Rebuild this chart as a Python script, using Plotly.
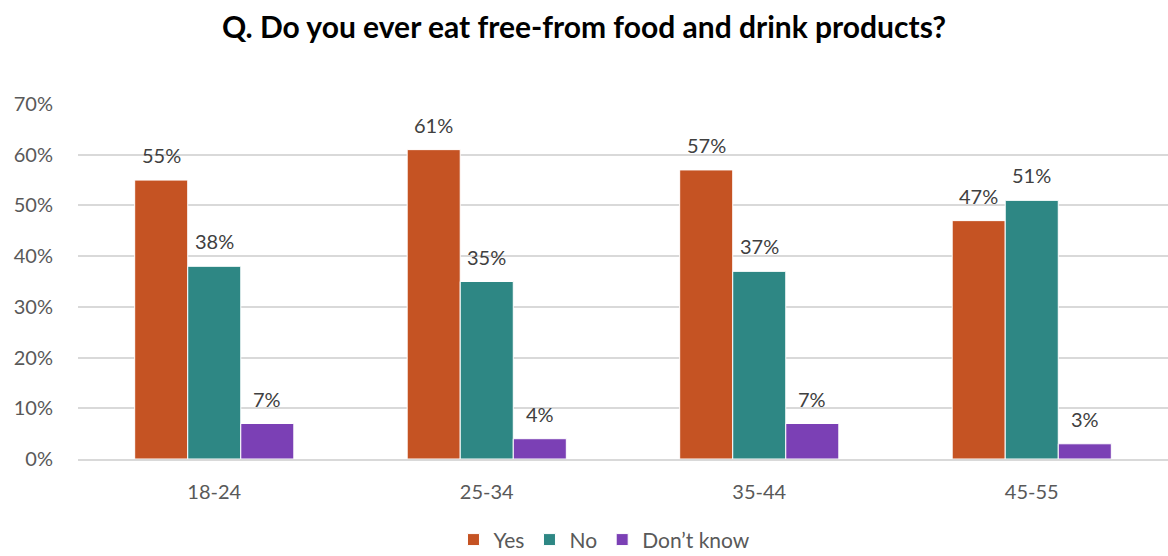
import plotly.graph_objects as go

categories = ["18-24", "25-34", "35-44", "45-55"]
yes_vals = [55, 61, 57, 47]
no_vals = [38, 35, 37, 51]
dk_vals = [7, 4, 7, 3]
series_names = ["Yes", "No", "Don\u2019t know"]
colors = ["#C55323", "#2E8784", "#7B40B5"]
tick_vals = [0, 10, 20, 30, 40, 50, 60, 70]
tick_text = ["0%", "10%", "20%", "30%", "40%", "50%", "60%", "70%"]

font_family = "Lato, 'Open Sans', sans-serif"
bar_px = 53  # approximate bar width in pixels for label offsets

fig = go.Figure()
all_vals = [yes_vals, no_vals, dk_vals]
for name, vals, col in zip(series_names, all_vals, colors):
    fig.add_trace(go.Bar(
        x=categories, y=vals, name=name,
        marker=dict(color=col, line=dict(color="white", width=1)),
    ))

annotations = []
for si, vals in enumerate(all_vals):
    for cat, v in zip(categories, vals):
        annotations.append(dict(
            x=cat, y=v, xref="x", yref="y", text=f"{v}%", showarrow=False,
            xanchor="center", yanchor="bottom", xshift=(si - 1) * bar_px, yshift=11,
            font=dict(size=20, color="#404040", family=font_family),
        ))

fig.update_layout(
    width=1168, height=556,
    margin=dict(l=78, r=0, t=104, b=97, autoexpand=False),
    paper_bgcolor="white", plot_bgcolor="white",
    barmode="group", bargap=0.416, bargroupgap=0,
    title=dict(text="<b>Q. Do you ever eat free-from food and drink products?</b>",
               x=0.5, xanchor="center", y=0.95, yanchor="middle",
               font=dict(size=30, color="black", family=font_family)),
    font=dict(family=font_family, color="#595959", size=20),
    showlegend=True,
    legend=dict(orientation="h", x=0.483, xanchor="center", y=-0.228, yanchor="middle",
                font=dict(size=21, color="#595959"), traceorder="normal",
                itemwidth=30),
    annotations=annotations,
)
fig.update_yaxes(range=[0, 70], tickvals=tick_vals, ticktext=tick_text,
                 showgrid=True, gridcolor="#D9D9D9", gridwidth=1.5,
                 zeroline=False, showline=False, ticks="", ticklabelstandoff=24,
                 tickfont=dict(size=20, color="#595959"))
fig.update_xaxes(showline=True, linecolor="#D9D9D9", linewidth=1.5, ticks="",
                 tickfont=dict(size=20, color="#595959"), ticklabelstandoff=14)

fig.write_html("out.html")
